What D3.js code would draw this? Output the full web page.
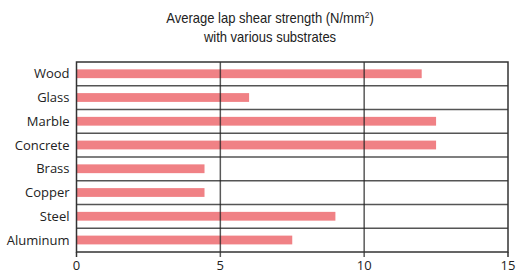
<!DOCTYPE html>
<html>
<head>
<meta charset="utf-8">
<script src="https://cdn.jsdelivr.net/npm/d3@7"></script>
<style>
    body { margin: 0; background: #fff; }
    svg { display: block; }
</style>
</head>
<body>
<div id="chart"></div>
<script>
const substrates = ['Wood', 'Glass', 'Marble', 'Concrete', 'Brass', 'Copper', 'Steel', 'Aluminum']
const strength = [12, 6, 12.5, 12.5, 4.45, 4.45, 9, 7.5]
const xTicks = [0, 5, 10, 15]
const titleLines = ['Average lap shear strength (N/mm', 'with various substrates']

const WIDTH = 517
const HEIGHT = 271
const MARGIN = {
    TOP: 62,
    RIGHT: 9,
    BOTTOM: 19,
    LEFT: 76.5,
}

const svg = d3.select('#chart')
    .append('svg')
    .attr('width', WIDTH)
    .attr('height', HEIGHT)

const x = d3.scaleLinear()
    .domain([0, 15])
    .range([MARGIN.LEFT, WIDTH - MARGIN.RIGHT])

const y = d3.scaleBand()
    .domain(substrates)
    .range([MARGIN.TOP, HEIGHT - MARGIN.BOTTOM])

const data = substrates.map((name, i) => ({ name, value: strength[i] }))

// title, slightly condensed like the original
const titleG = svg.append('g')
    .attr('transform', 'translate(270,0) scale(0.93,1)')
    .style('font-family', 'Liberation Sans, Arial, sans-serif')
    .style('font-size', '14px')
    .attr('fill', '#222')

const title = titleG.append('text')
    .attr('x', 0)
    .attr('y', 23.5)
    .attr('text-anchor', 'middle')

title.append('tspan').text(titleLines[0])
title.append('tspan')
    .attr('dy', -5)
    .style('font-size', '9px')
    .text('2')
title.append('tspan')
    .attr('dy', 5)
    .text(')')

titleG.append('text')
    .attr('x', 0)
    .attr('y', 42)
    .attr('text-anchor', 'middle')
    .text(titleLines[1])

// bars
svg.append('g')
    .selectAll('rect')
    .data(data)
    .join('rect')
    .attr('x', x(0))
    .attr('y', (d) => y(d.name) + y.bandwidth() * 0.31)
    .attr('width', (d) => x(d.value) - x(0))
    .attr('height', y.bandwidth() * 0.37)
    .attr('fill', '#f08185')

// row separators
svg.append('g')
    .selectAll('line')
    .data(substrates.slice(1))
    .join('line')
    .attr('x1', x(0))
    .attr('x2', x(15))
    .attr('y1', (d) => y(d))
    .attr('y2', (d) => y(d))
    .attr('stroke', '#555')
    .attr('stroke-width', 1.6)

// vertical grid + ticks
svg.append('g')
    .selectAll('line')
    .data(xTicks.slice(1, -1))
    .join('line')
    .attr('x1', (d) => x(d))
    .attr('x2', (d) => x(d))
    .attr('y1', MARGIN.TOP)
    .attr('y2', HEIGHT - MARGIN.BOTTOM + 5)
    .attr('stroke', '#222')
    .attr('stroke-opacity', 0.75)
    .attr('stroke-width', 1.5)

// frame
svg.append('rect')
    .attr('x', x(0))
    .attr('y', MARGIN.TOP)
    .attr('width', x(15) - x(0))
    .attr('height', HEIGHT - MARGIN.BOTTOM - MARGIN.TOP)
    .attr('fill', 'none')
    .attr('stroke', '#333')
    .attr('stroke-width', 1.5)

svg.append('g')
    .selectAll('line')
    .data([0, 15])
    .join('line')
    .attr('x1', (d) => x(d))
    .attr('x2', (d) => x(d))
    .attr('y1', HEIGHT - MARGIN.BOTTOM)
    .attr('y2', HEIGHT - MARGIN.BOTTOM + 5)
    .attr('stroke', '#333')
    .attr('stroke-width', 1.5)

// x tick labels
svg.append('g')
    .selectAll('text')
    .data(xTicks)
    .join('text')
    .attr('x', (d) => x(d))
    .attr('y', HEIGHT - 1.5)
    .attr('text-anchor', 'middle')
    .style('font-family', 'Open Sans, sans-serif')
    .style('font-size', '13px')
    .attr('fill', '#222')
    .text((d) => d)

// category labels
svg.append('g')
    .selectAll('text')
    .data(substrates)
    .join('text')
    .attr('x', MARGIN.LEFT - 7)
    .attr('y', (d) => y(d) + y.bandwidth() / 2)
    .attr('dy', '0.35em')
    .attr('text-anchor', 'end')
    .style('font-family', 'Open Sans, sans-serif')
    .style('font-size', '13px')
    .attr('fill', '#222')
    .text((d) => d)
</script>
</body>
</html>
